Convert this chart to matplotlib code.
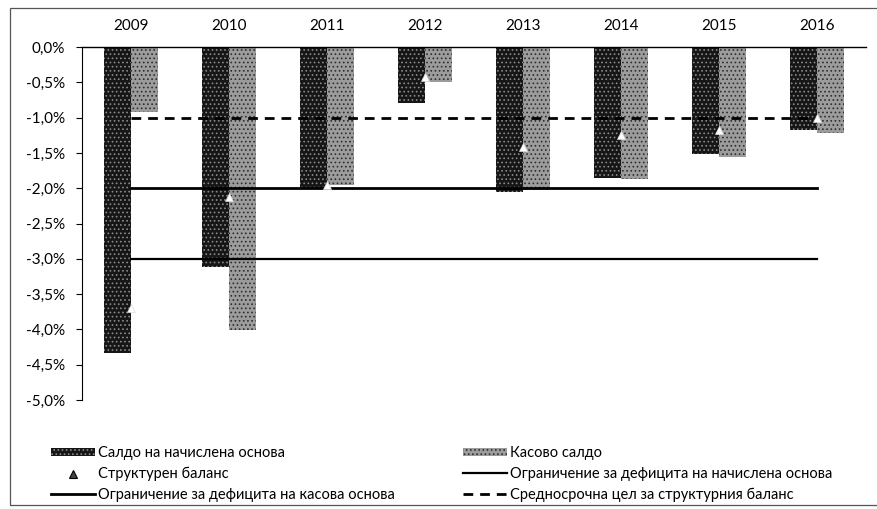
import numpy as np
import matplotlib
matplotlib.use("Agg")
import matplotlib.pyplot as plt
from matplotlib.patches import Rectangle
from matplotlib.lines import Line2D

plt.rcParams['font.family'] = ['Lato', 'DejaVu Sans']
plt.rcParams['hatch.linewidth'] = 0.7

# data (% of GDP)
years = ["2009", "2010", "2011", "2012", "2013", "2014", "2015", "2016"]
accrual_balance = [-4.33, -3.12, -2.0, -0.8, -2.05, -1.85, -1.52, -1.18]
cash_balance = [-0.92, -4.01, -1.96, -0.5, -2.03, -1.87, -1.56, -1.22]
structural_balance = [-3.69, -2.13, -1.95, -0.42, -1.42, -1.24, -1.18, -1.0]
cash_deficit_limit = [-2.0, -2.0, -2.0, -2.0, -2.0, -2.0, -2.0, -2.0]
accrual_deficit_limit = [-3.0, -3.0, -3.0, -3.0, -3.0, -3.0, -3.0, -3.0]
mto = [-1.0, -1.0, -1.0, -1.0, -1.0, -1.0, -1.0, -1.0]

yticks = [0.0, -0.5, -1.0, -1.5, -2.0, -2.5, -3.0, -3.5, -4.0, -4.5, -5.0]
ytick_labels = ["0,0%", "-0,5%", "-1,0%", "-1,5%", "-2,0%", "-2,5%",
                "-3,0%", "-3,5%", "-4,0%", "-4,5%", "-5,0%"]

labels = ["Салдо на начислена основа", "Структурен баланс",
          "Ограничение за дефицита на касова основа", "Касово салдо",
          "Ограничение за дефицита на начислена основа",
          "Средносрочна цел за структурния баланс"]

W, H = 877, 509
fig = plt.figure(figsize=(W / 100, H / 100), dpi=100)
ax = fig.add_axes([82 / W, 1 - 400 / H, 784 / W, 353 / H])

x = np.arange(len(years))
bw = 0.28

#bars
b1 = ax.bar(x - bw / 2, accrual_balance, bw, color="#161616", edgecolor="#8a8a8a",
            linewidth=0, hatch="....", zorder=2)
b2 = ax.bar(x + bw / 2, cash_balance, bw, color="#9c9c9c", edgecolor="#2e2e2e",
            linewidth=0, hatch="....", zorder=2)

#limit lines
l1, = ax.plot(x, cash_deficit_limit, color="black", lw=2.0, zorder=3)
l2, = ax.plot(x, accrual_deficit_limit, color="black", lw=1.6, zorder=3)
l3, = ax.plot(x, mto, color="black", lw=2.0, ls=(0, (3.5, 2.5)), zorder=3)

#structural balance markers
ax.plot(x, structural_balance, ls="none", marker="^", markersize=6,
        markerfacecolor="white", markeredgecolor="#dddddd", markeredgewidth=0.5, zorder=4)
m = Line2D([], [], ls="none", marker="^", markersize=6, markerfacecolor="#444444",
           markeredgecolor="black", markeredgewidth=0.8)

ax.set_xlim(-0.5, 7.5)
ax.set_ylim(-5.0, 0.0)
ax.set_yticks(yticks)
ax.set_yticklabels(ytick_labels, fontsize=11)
ax.set_xticks(x)
ax.set_xticklabels(years, fontsize=11)
ax.xaxis.tick_top()
ax.tick_params(axis="x", length=0, pad=10)
ax.tick_params(axis="y", length=4, width=0.8, pad=8, direction="out")

for s in ["right", "bottom"]:
    ax.spines[s].set_visible(False)
ax.spines["top"].set_linewidth(1.0)
ax.spines["left"].set_linewidth(0.8)
ax.spines["left"].set_linestyle((0, (6, 1)))

#legend, two columns
leg_kw = dict(loc="upper left", frameon=False, fontsize=10.5, borderpad=0,
              handlelength=3.0, handletextpad=0.2, labelspacing=0.45, handleheight=0.45)
fig.legend([b1, m, l1], labels[:3], bbox_to_anchor=(44 / W, 1 - 439 / H), **leg_kw)
fig.legend([b2, l2, l3], labels[3:], bbox_to_anchor=(456 / W, 1 - 439 / H), **leg_kw)

#outer frame of the scanned chart
fig.patches.append(Rectangle((10 / W, 4 / H), 1.0, 1 - 12 / H, transform=fig.transFigure,
                             fill=False, edgecolor="#555555", linewidth=0.9))

fig.savefig("out.png", dpi=100)
